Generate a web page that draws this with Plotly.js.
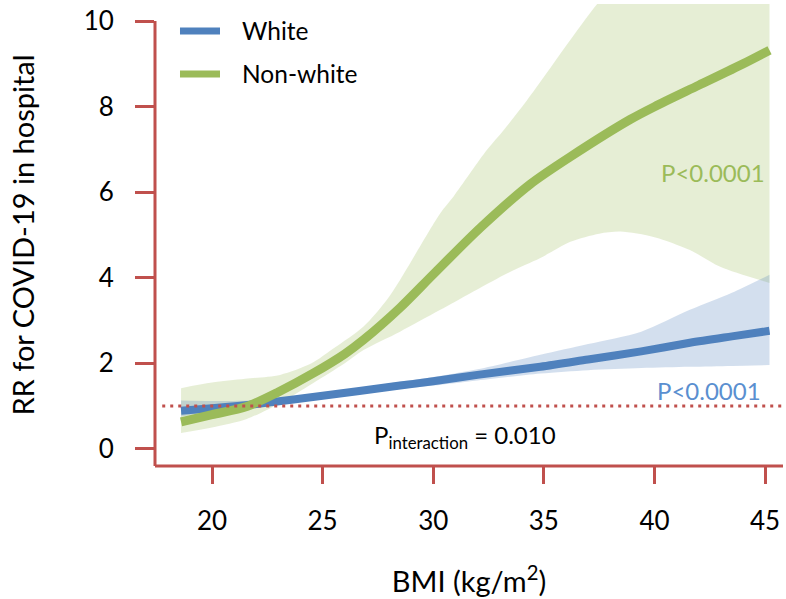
<!DOCTYPE html>
<html>
<head>
<meta charset="utf-8">
<script src="https://cdn.plot.ly/plotly-3.0.1.min.js"></script>
<style>html,body{margin:0;padding:0;background:#fff;}#chart{width:786px;height:599px;}</style>
</head>
<body>
<div id="chart"></div>
<script>
// ---- Data ----
const whiteBMI   = [18.6, 20, 22, 25, 28.5, 30, 32, 34.84, 37, 39.4, 41.6, 43.5, 45.2];
const whiteRR    = [0.89, 0.95, 1.05, 1.24, 1.48, 1.58, 1.73, 1.92, 2.09, 2.28, 2.48, 2.63, 2.76];
const whiteUpper = [1.13, 1.12, 1.14, 1.30, 1.57, 1.68, 1.86, 2.20, 2.45, 2.74, 3.25, 3.65, 4.07];
const whiteLower = [0.76, 0.86, 0.98, 1.17, 1.40, 1.48, 1.60, 1.76, 1.84, 1.89, 1.92, 1.94, 1.96];

const nonwhiteBMI = [18.6, 20, 21.57, 23, 24.58, 26, 26.85, 28.5, 30, 32.13, 34.39, 36.2, 38.9, 40, 42, 44, 45.2];
const nonwhiteRR  = [0.63, 0.80, 0.99, 1.33, 1.77, 2.22, 2.55, 3.30, 4.08, 5.17, 6.19, 6.83, 7.70, 8.00, 8.50, 9.00, 9.32];

const nwUpperBMI = [18.6, 20, 21.5, 23.08, 24.5, 25.5, 26.85, 27.9, 28.5, 30.32, 30.92, 32.43, 33.18, 34.24, 37.41, 39, 42, 45.2];
const nwUpper    = [1.42, 1.55, 1.64, 1.73, 2.00, 2.35, 2.86, 3.48, 3.95, 5.51, 5.90, 6.99, 7.45, 8.15, 10.4, 11.3, 12.8, 14.3];
const nwLowerBMI = [18.6, 20, 21.57, 23, 24.58, 26, 26.85, 28.5, 30.32, 33.33, 34.84, 36.2, 37.5, 38.46, 40, 41.6, 43, 45.2];
const nwLower    = [0.37, 0.50, 0.70, 1.05, 1.54, 2.00, 2.31, 2.74, 3.25, 4.10, 4.46, 4.84, 5.03, 5.08, 4.95, 4.65, 4.25, 3.88];

const yTicks = [0, 2, 4, 6, 8, 10];
const xTicks = [20, 25, 30, 35, 40, 45];
const seriesNames = ['White', 'Non-white'];

// ---- Styles ----
const axisRed = '#c0504d';
const blue = '#4f81bd';
const green = '#9bbb59';
const FONT = 'Lato, "Liberation Sans", sans-serif';
const SM = 0.8;

const traces = [
  // Non-white CI band
  { x: nwLowerBMI, y: nwLower, type: 'scatter', mode: 'lines',
    line: { width: 0, shape: 'spline', smoothing: SM }, hoverinfo: 'skip', showlegend: false },
  { x: nwUpperBMI, y: nwUpper, type: 'scatter', mode: 'lines', fill: 'tonexty',
    fillcolor: 'rgba(155,187,89,0.25)',
    line: { width: 0, shape: 'spline', smoothing: SM }, hoverinfo: 'skip', showlegend: false },
  // White CI band
  { x: whiteBMI, y: whiteLower, type: 'scatter', mode: 'lines',
    line: { width: 0, shape: 'spline', smoothing: SM }, hoverinfo: 'skip', showlegend: false },
  { x: whiteBMI, y: whiteUpper, type: 'scatter', mode: 'lines', fill: 'tonexty',
    fillcolor: 'rgba(79,129,189,0.25)',
    line: { width: 0, shape: 'spline', smoothing: SM }, hoverinfo: 'skip', showlegend: false },
  // White line
  { x: whiteBMI, y: whiteRR, type: 'scatter', mode: 'lines', name: seriesNames[0],
    line: { color: blue, width: 8, shape: 'spline', smoothing: SM }, showlegend: false },
  // Non-white line
  { x: nonwhiteBMI, y: nonwhiteRR, type: 'scatter', mode: 'lines', name: seriesNames[1],
    line: { color: green, width: 9, shape: 'spline', smoothing: SM }, showlegend: false }
];

const xr = [17.423, 45.81];
const yr = [-0.4, 10.4];

const layout = {
  width: 786, height: 599,
  margin: { l: 155, r: 3, t: 4, b: 133 },
  paper_bgcolor: '#fff', plot_bgcolor: '#fff',
  font: { family: FONT, size: 26, color: '#000' },
  xaxis: {
    range: xr, tickvals: xTicks, ticktext: xTicks.map(String),
    showgrid: false, zeroline: false, showline: false,
    ticks: 'outside', ticklen: 17, tickwidth: 3, tickcolor: axisRed,
    ticklabelstandoff: 15,
    tickfont: { family: FONT, size: 26, color: '#000' },
    title: { text: 'BMI (kg/m<sup>2</sup>)', font: { family: FONT, size: 29, color: '#000' }, standoff: 36 },
    fixedrange: true
  },
  yaxis: {
    range: yr, tickvals: yTicks, ticktext: yTicks.map(String),
    showgrid: false, zeroline: false, showline: false,
    ticks: 'outside', ticklen: 19, tickwidth: 3, tickcolor: axisRed,
    ticklabelstandoff: 16,
    tickfont: { family: FONT, size: 26, color: '#000' },
    title: { text: 'RR for COVID-19 in hospital', font: { family: FONT, size: 29, color: '#000' }, standoff: 40 },
    fixedrange: true
  },
  shapes: [
    // y axis line (from bottom to the 10 tick)
    { type: 'line', xref: 'paper', yref: 'y', x0: 0, x1: 0, y0: yr[0], y1: 10,
      line: { color: axisRed, width: 3 }, layer: 'above' },
    // x axis line
    { type: 'line', xref: 'paper', yref: 'paper', x0: 0, x1: 1, y0: 0, y1: 0,
      line: { color: axisRed, width: 3 }, layer: 'above' },
    // reference line RR = 1
    { type: 'line', xref: 'x', yref: 'y', x0: 17.75, x1: xr[1], y0: 1, y1: 1,
      line: { color: axisRed, width: 3, dash: '3px,5px' }, layer: 'above' },
    // legend samples
    { type: 'line', xref: 'paper', yref: 'paper', x0: 0.0398, x1: 0.1035, y0: 0.9416, y1: 0.9416,
      line: { color: blue, width: 7 } },
    { type: 'line', xref: 'paper', yref: 'paper', x0: 0.0398, x1: 0.1035, y0: 0.8485, y1: 0.8485,
      line: { color: green, width: 7 } }
  ],
  annotations: [
    { xref: 'paper', yref: 'paper', x: 0.1354, y: 0.9416, xanchor: 'left', yanchor: 'middle',
      text: seriesNames[0], showarrow: false, font: { family: FONT, size: 24.5, color: '#000' } },
    { xref: 'paper', yref: 'paper', x: 0.1354, y: 0.8485, xanchor: 'left', yanchor: 'middle',
      text: seriesNames[1], showarrow: false, font: { family: FONT, size: 24.5, color: '#000' } },
    { xref: 'x', yref: 'y', x: 45.08, y: 6.47, xanchor: 'right', yanchor: 'middle',
      text: 'P<0.0001', showarrow: false, font: { family: FONT, size: 24, color: green } },
    { xref: 'x', yref: 'y', x: 44.9, y: 1.36, xanchor: 'right', yanchor: 'middle',
      text: 'P<0.0001', showarrow: false, font: { family: FONT, size: 24, color: '#5a8fd0' } },
    { xref: 'x', yref: 'y', x: 27.22, y: 0.28, xanchor: 'left', yanchor: 'middle',
      text: 'P<sub>interaction</sub> = 0.010', showarrow: false, font: { family: FONT, size: 24, color: '#000' } }
  ]
};

Plotly.newPlot('chart', traces, layout, { displayModeBar: false, staticPlot: true });
</script>
</body>
</html>
